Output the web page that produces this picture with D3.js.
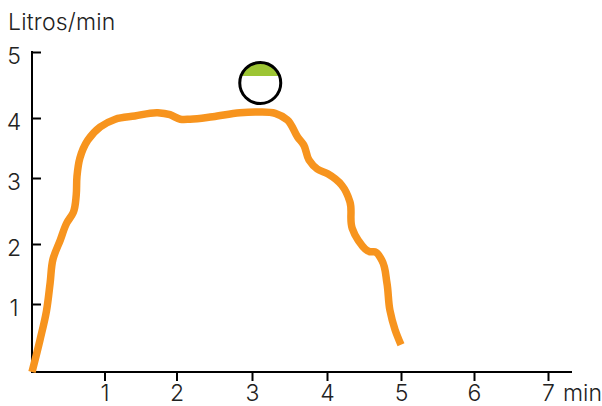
<!DOCTYPE html>
<html>
<head>
<meta charset="utf-8">
<script src="https://cdn.jsdelivr.net/npm/d3@7"></script>
<style>
    html, body { margin: 0; padding: 0; background: #fff; }
    svg { display: block; }
    text { font-family: Inter, Roboto, "Liberation Sans", sans-serif; font-weight: 300; fill: #222; }
</style>
</head>
<body>
<svg width="602" height="406"></svg>
<script>
// tick values
var xTicks = [1, 2, 3, 4, 5, 6, 7];
var yTicks = [1, 2, 3, 4, 5];
var yTickLabels = ["1", "2", "3", "4", "5"];
var xTickLabels = ["1", "2", "3", "4", "5", "6", "7"];

// curve: minutes and litres per minute
var minutes = [0, 0.11, 0.2, 0.25, 0.29, 0.39, 0.48, 0.57, 0.61, 0.62, 0.66, 0.77, 0.94, 1.15, 1.42, 1.74, 1.91, 2.05, 2.18, 2.48, 2.84, 3.07, 3.31, 3.47, 3.61, 3.69, 3.76, 3.87, 4.01, 4.2, 4.31, 4.34, 4.42, 4.58, 4.65, 4.74, 4.81, 4.85, 4.92, 5];
var litres = [0, 0.47, 0.9, 1.35, 1.75, 2.06, 2.32, 2.48, 2.74, 3.02, 3.33, 3.63, 3.85, 3.98, 4.03, 4.08, 4.05, 3.98, 3.98, 4.02, 4.08, 4.09, 4.07, 3.97, 3.68, 3.55, 3.3, 3.15, 3.07, 2.89, 2.64, 2.24, 2.06, 1.87, 1.87, 1.73, 1.35, 0.91, 0.62, 0.4];

// the round marker above the plateau
var markerMinute = [3.11];
var markerLitres = [4.53];

var svg = d3.select("svg");

// the drawing's ticks are not evenly spaced, so both scales are piecewise
var x = d3.scaleLinear()
    .domain([0, 1, 2, 3, 4, 5, 6, 7])
    .range([32, 104.5, 176.5, 252, 327, 401, 474, 548]);

var y = d3.scaleLinear()
    .domain([0, 1, 2, 3, 4, 5])
    .range([372, 304, 244, 178, 118, 52]);

// y axis
var yAxis = svg.append("g")
    .attr("transform", "translate(32,0)")
    .call(d3.axisRight(y)
        .tickValues(yTicks)
        .tickSize(9)
        .tickFormat(function(d, i) { return yTickLabels[i]; }));

yAxis.select(".domain")
    .attr("d", "M0," + (y(5) - 1) + "V" + y(0))
    .attr("stroke", "#000")
    .attr("stroke-width", 2);

yAxis.selectAll(".tick line")
    .attr("stroke", "#000")
    .attr("stroke-width", 2);

yAxis.selectAll(".tick text")
    .attr("x", -18)
    .attr("dy", "0.5em")
    .attr("text-anchor", "middle")
    .style("font-size", "23px");

// x axis
var xAxis = svg.append("g")
    .attr("transform", "translate(0,372)")
    .call(d3.axisBottom(x)
        .tickValues(xTicks)
        .tickSize(9)
        .tickFormat(function(d, i) { return xTickLabels[i]; }));

xAxis.select(".domain")
    .attr("d", "M31,0H572")
    .attr("stroke", "#000")
    .attr("stroke-width", 2);

xAxis.selectAll(".tick line")
    .attr("stroke", "#000")
    .attr("stroke-width", 2);

xAxis.selectAll(".tick text")
    .attr("y", 29)
    .attr("dy", 0)
    .attr("text-anchor", "middle")
    .style("font-size", "23px");

// unit labels
svg.append("text")
    .attr("x", 8)
    .attr("y", 30)
    .style("font-size", "23px")
    .style("letter-spacing", "0.2px")
    .text("Litros/min");

svg.append("text")
    .attr("x", 563)
    .attr("y", 401)
    .style("font-size", "23px")
    .text("min");

// flow curve
var line = d3.line()
    .x(function(d) { return x(d[0]); })
    .y(function(d) { return y(d[1]); })
    .curve(d3.curveCatmullRom.alpha(1));

svg.append("path")
    .datum(d3.zip(minutes, litres))
    .attr("fill", "none")
    .attr("stroke", "#f7941e")
    .attr("stroke-width", 7.5)
    .attr("stroke-linejoin", "round")
    .attr("d", line);

// marker: circle with a green cap on top
var cx = x(markerMinute[0]);
var cy = y(markerLitres[0]);

svg.append("clipPath")
    .attr("id", "cap")
    .append("rect")
    .attr("x", cx - 22)
    .attr("y", cy - 22)
    .attr("width", 44)
    .attr("height", 15);

svg.append("circle")
    .attr("cx", cx)
    .attr("cy", cy)
    .attr("r", 20.5)
    .attr("fill", "#9dc534")
    .attr("clip-path", "url(#cap)");

svg.append("circle")
    .attr("cx", cx)
    .attr("cy", cy)
    .attr("r", 20.5)
    .attr("fill", "none")
    .attr("stroke", "#000")
    .attr("stroke-width", 3);
</script>
</body>
</html>
